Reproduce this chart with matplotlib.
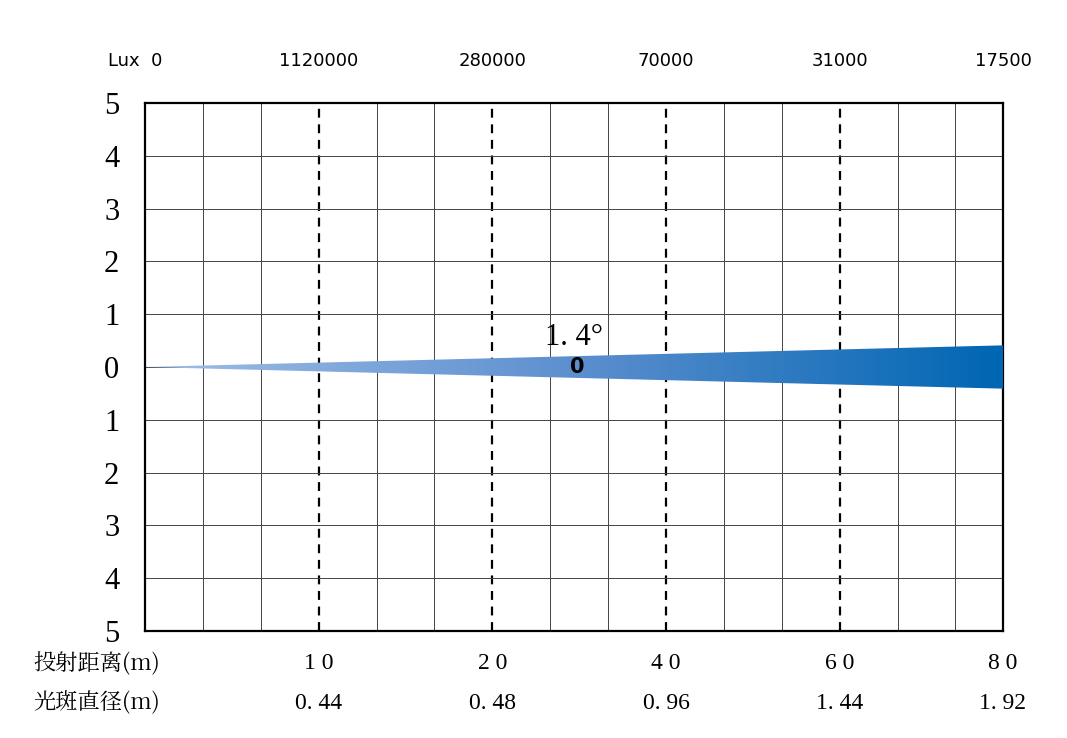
import numpy as np
import matplotlib.pyplot as plt
from matplotlib.patches import Polygon
from matplotlib.colors import LinearSegmentedColormap
from matplotlib import font_manager as fm

y_labels = ["5", "4", "3", "2", "1", "0", "1", "2", "3", "4", "5"]
lux_labels = ["1120000", "280000", "70000", "31000", "17500"]
distance_labels = ["10", "20", "40", "60", "80"]
diameter_labels = ["0.44", "0.48", "0.96", "1.44", "1.92"]
label_cols = [3, 6, 9, 12, 15]
beam_half_width = 0.41
beam_angle = "1.4°"

cjk = None
for f in fm.findSystemFonts():
    if "CJK" in f and ("Regular" in f or "CJK" in f):
        cjk = fm.FontProperties(fname=f, size=16)
        if "Regular" in f:
            break
if cjk is None:
    cjk = fm.FontProperties(family="Noto Sans CJK SC", size=16)

plt.rcParams["font.family"] = ["Liberation Serif"]
fig = plt.figure(figsize=(10.67, 7.38), dpi=100)
ax = fig.add_axes([145/1067, 1-631/738, 858/1067, 528/738])
ax.set_xlim(0, 15)
ax.set_ylim(-5, 5)
for i in range(1, 15):
    if i in label_cols:
        ax.axvline(i * 1.012, color="black", lw=1.6, ls=(0, (4, 3)))
    else:
        ax.axvline(i * 1.012, color="#444444", lw=0.7)
for j in range(-4, 5):
    ax.axhline(j, color="#444444", lw=0.7)
for s in ax.spines.values():
    s.set_linewidth(1.6)
ax.set_xticks([])
ax.set_yticks(range(-5, 6))
ax.set_yticklabels(y_labels[::-1], fontsize=22)
ax.tick_params(axis="y", length=0, pad=24)
for t in ax.get_yticklabels():
    t.set_ha("center")

cmap = LinearSegmentedColormap.from_list("b", ["#9fbfe6", "#5d8fcf", "#0066b3"])
grad = np.linspace(0, 1, 256).reshape(1, -1)
poly = Polygon([[0, 0], [15, beam_half_width], [15, -beam_half_width]], closed=True,
               facecolor="none", edgecolor="none")
ax.add_patch(poly)
im = ax.imshow(grad, cmap=cmap, extent=[0, 15, -beam_half_width, beam_half_width],
               aspect="auto", zorder=3)
im.set_clip_path(poly)
ax.text(7.5, 0.55, beam_angle.replace(".", ". "), fontsize=22, ha="center", va="center", zorder=4)
ax.text(7.55, 0.0, "0", fontsize=15, fontweight="bold", family="DejaVu Sans",
        ha="center", va="center", zorder=4)

tr = ax.get_xaxis_transform()
ax.text(-0.65, 1.08, "Lux  0", transform=tr, fontsize=13, family="DejaVu Sans",
        ha="left", va="center")
for c, lx, d, dm in zip(label_cols, lux_labels, distance_labels, diameter_labels):
    cx = c * 1.012 if c < 15 else 15
    ax.text(cx, 1.08, lx, transform=tr, fontsize=13, family="DejaVu Sans", ha="center", va="center")
    ax.text(cx, -0.062, " ".join(d), transform=tr, fontsize=17, ha="center", va="center")
    ax.text(cx, -0.137, dm.replace(".", ". "), transform=tr, fontsize=17, ha="center", va="center")
ax.text(-1.95, -0.062, "投射距离(m)", transform=tr, fontproperties=cjk, ha="left", va="center")
ax.text(-1.95, -0.137, "光斑直径(m)", transform=tr, fontproperties=cjk, ha="left", va="center")
fig.savefig("out.png", dpi=100)
